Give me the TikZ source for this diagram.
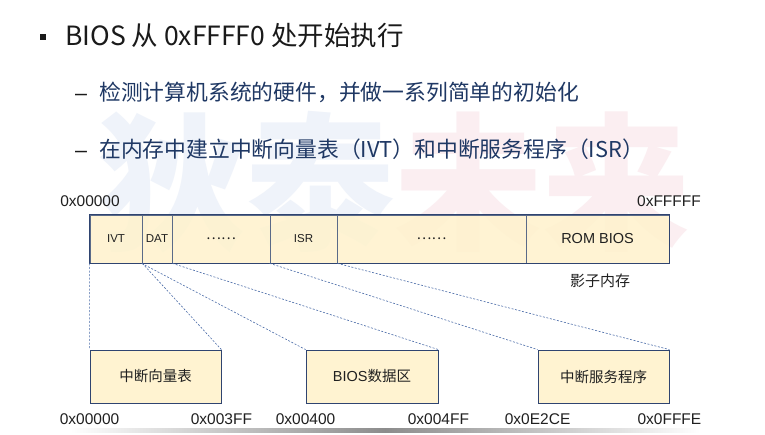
\documentclass[tikz,border=0pt]{standalone}
\usepackage{fontspec}
\setmainfont{Liberation Sans}
\newfontfamily\cjk{Noto Sans CJK SC}
\definecolor{titlec}{HTML}{1A1A1A}
\definecolor{subc}{HTML}{1F3864}
\definecolor{cellfill}{HTML}{FFF2CC}
\definecolor{cellline}{HTML}{2F4470}
\definecolor{divline}{HTML}{5A6A88}
\definecolor{dashc}{HTML}{4A6CA8}
\definecolor{wmblue}{HTML}{EFF3FA}
\definecolor{wmpink}{HTML}{FBEEF1}
\definecolor{labc}{HTML}{202020}
\begin{document}
\begin{tikzpicture}[x=1pt,y=-1pt,
  cell/.style={draw=divline, line width=0.7pt, fill=cellfill, fill opacity=0.85, text opacity=1,
    minimum height=48, inner sep=0, text=labc, font=\fontsize{11.5}{13}\selectfont},
  bigbox/.style={draw=cellline, line width=0.8pt, fill=cellfill, fill opacity=0.9, text opacity=1,
    minimum width=131, minimum height=53, inner sep=0, text=labc, font=\cjk\fontsize{14.5}{17}\selectfont},
  addr/.style={inner sep=0, text=labc, font=\fontsize{15.5}{18}\selectfont},
  conn/.style={draw=dashc, line width=0.6pt, dash pattern=on 2pt off 1.6pt},
  subtxt/.style={anchor=base west, inner sep=0, text=subc, font=\cjk\fontsize{21.8}{26}\selectfont},
  dashmark/.style={anchor=base west, inner sep=0, text=titlec, font=\fontsize{21.5}{26}\selectfont},
  wmark/.style={anchor=west, inner sep=0, font=\cjk\bfseries\fontsize{148}{150}\selectfont}
]
\useasboundingbox (0,0) rectangle (765,435);
\fill[white] (0,0) rectangle (765,435);
% bottom shadow
\shade[left color=white, right color=white, middle color=black!45] (70,428) rectangle (700,432);
% watermark
\node[wmark, text=wmblue] (wma) at (98,182) {狄泰};
\node[wmark, text=wmpink] (wmb) at (wma.east) {未来};
% title
\node[fill=titlec, minimum size=6, inner sep=0] (bul) at (43,37) {};
\node[anchor=base west, inner sep=0, text=titlec, font=\cjk\fontsize{26.5}{30}\selectfont] (title) at (65,45.5) {BIOS 从 0xFFFF0 处开始执行};
\node[dashmark] (d1) at (75,100.5) {–};
\node[subtxt] (s1) at (99,100.5) {检测计算机系统的硬件，并做一系列简单的初始化};
\node[dashmark] (d2) at (75,157.5) {–};
\node[subtxt] (s2) at (99,157.5) {在内存中建立中断向量表（IVT）和中断服务程序（ISR）};
% memory bar
\node[cell, minimum width=52] (ivt) at (116,239) {IVT};
\node[cell, minimum width=30] (dat) at (157,239) {DAT};
\node[cell, minimum width=98, font=\cjk\fontsize{14}{16}\selectfont] (dots1) at (221,239) {……};
\node[cell, minimum width=67] (isr) at (303.5,239) {ISR};
\node[cell, minimum width=189, font=\cjk\fontsize{14}{16}\selectfont] (dots2) at (431.5,239) {……};
\node[cell, minimum width=143, font=\fontsize{14.5}{17}\selectfont] (rom) at (597.5,239) {ROM BIOS};
\draw[cellline, line width=0.8pt] (ivt.north west) -- (rom.north east) -- (rom.south east) -- (ivt.south west) -- cycle;
\node[addr] (a0) at (90,201) {0x00000};
\node[addr] (af) at (669,201) {0xFFFFF};
\node[inner sep=0, text=labc, font=\cjk\fontsize{15}{18}\selectfont] (shadow) at (600,281) {影子内存};
% detail boxes
\node[bigbox] (b1) at (155.5,376.5) {中断向量表};
\node[bigbox, minimum width=132] (b2) at (372,376.5) {\fontspec{Liberation Sans}BIOS\cjk 数据区};
\node[bigbox] (b3) at (603.5,376.5) {中断服务程序};
% connectors
\draw[conn] (ivt.south west) -- (b1.north west);
\draw[conn] (ivt.south east) -- (b1.north east);
\draw[conn] (dat.south west) -- (b2.north west);
\draw[conn] (dat.south east) -- (b2.north east);
\draw[conn] (isr.south west) -- (b3.north west);
\draw[conn] (isr.south east) -- (b3.north east);
% addresses
\node[addr] (l1) at ([yshift=-16pt]b1.south west) {0x00000};
\node[addr] (l2) at ([yshift=-16pt]b1.south east) {0x003FF};
\node[addr] (l3) at ([yshift=-16pt]b2.south west) {0x00400};
\node[addr] (l4) at ([yshift=-16pt]b2.south east) {0x004FF};
\node[addr] (l5) at ([yshift=-16pt]b3.south west) {0x0E2CE};
\node[addr] (l6) at ([yshift=-16pt]b3.south east) {0x0FFFE};
\end{tikzpicture}
\end{document}
